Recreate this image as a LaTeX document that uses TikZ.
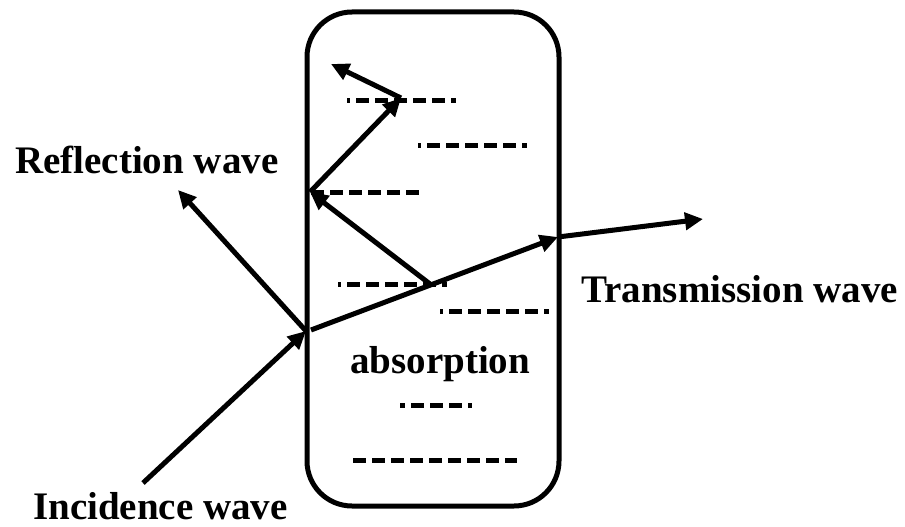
\documentclass[tikz,border=0pt]{standalone}
\usepackage{fontspec}
\setmainfont{Liberation Serif}
\usetikzlibrary{arrows.meta}
\begin{document}
\begin{tikzpicture}[x=1pt,y=-1pt,
  wave/.style={line width=5pt,-{Triangle[length=18pt,width=17pt]}},
  level/.style={line width=5pt,dash pattern=on 13pt off 6pt},
  label/.style={font=\fontsize{39}{44}\selectfont\bfseries,inner sep=0pt,anchor=base west},
  medium/.style={draw,line width=5pt,rounded corners=45pt,minimum width=252pt,minimum height=494pt,inner sep=0pt}]
\useasboundingbox (0,0) rectangle (905,527);
% medium
\node[medium] (box) at (433,259) {};
% labels
\node[label] (refl) at (15,173) {Reflection wave};
\node[label] (trans) at (581,302) {Transmission wave};
\node[label] (abs) at (350,373) {absorption};
\node[label] (inc) at (33,519) {Incidence wave};
% key points
\coordinate (src) at (143,483);
\coordinate (hit) at (306,331);
\coordinate (rtip) at (178,190);
\coordinate (tin) at (311,330);
\coordinate (j1) at (430,284);
\coordinate (exit) at (558,237);
\coordinate (ttip) at (703,219);
\coordinate (w1) at (310,192);
\coordinate (j2) at (401,98);
\coordinate (utip) at (331,64);
% arrows
\draw[wave] (src) -- (hit);
\draw[wave] (hit) -- (rtip);
\draw[wave] (tin) -- (exit);
\draw[wave] (exit) -- (ttip);
\draw[wave] (j1) -- (w1);
\draw[wave] (w1) -- (j2);
\draw[wave] (j2) -- (utip);
% dashed levels
\coordinate (d1a) at (347,100); \coordinate (d1b) at (456,100);
\coordinate (d2a) at (418,145); \coordinate (d2b) at (527,145);
\coordinate (d3a) at (311,192); \coordinate (d3b) at (420,192);
\coordinate (d4a) at (338,284); \coordinate (d4b) at (447,284);
\coordinate (d5a) at (440,311); \coordinate (d5b) at (549,311);
\coordinate (d6a) at (400,405); \coordinate (d6b) at (472,405);
\coordinate (d7a) at (353,460); \coordinate (d7b) at (517,460);
\draw[level,dash phase=10pt] (d1a) -- (d1b);
\draw[level,dash phase=10pt] (d2a) -- (d2b);
\draw[level] (d3a) -- (d3b);
\draw[level,dash phase=10pt] (d4a) -- (d4b);
\draw[level,dash phase=10pt] (d5a) -- (d5b);
\draw[level,dash phase=8pt] (d6a) -- (d6b);
\draw[level] (d7a) -- (d7b);
\end{tikzpicture}
\end{document}
